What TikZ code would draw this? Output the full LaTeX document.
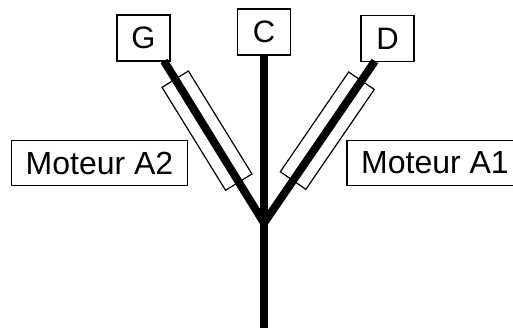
\documentclass[tikz,border=0pt]{standalone}
\usepackage{fontspec}
\setmainfont{Liberation Sans}
\usetikzlibrary{positioning}

\begin{document}
\begin{tikzpicture}[x=1pt, y=-1pt,
           lettre/.style={draw, line width=1.4pt, minimum width=53pt, minimum height=46pt, inner sep=0pt, font=\fontsize{31}{36}\selectfont},
           moteur/.style={draw, line width=1.2pt, minimum width=121pt, minimum height=31pt, inner sep=0pt},
           etiquette/.style={draw, line width=1.4pt, minimum width=176pt, minimum height=45pt, inner sep=0pt, font=\fontsize{32}{38}\selectfont},
           tige/.style={line width=8pt}]
           \useasboundingbox (0,0) rectangle (513,328);
           \node[lettre] (G) at (143.5,38) {G};
           \node[lettre] (C) at (264,32) {C};
           \node[lettre] (D) at (387.5,38.5) {D};
           \coordinate (gA) at (164,61);
           \coordinate (dA) at (375,61);
           \coordinate (J) at (264,223);
           \coordinate (bas) at (264,332);
           \path (gA) -- (J) node[moteur, sloped, pos=0.43] (mA2) {};
           \path (dA) -- (J) node[moteur, sloped, pos=0.43] (mA1) {};
           \draw[tige] (gA) -- (J) -- (dA);
           \draw[tige] (C.south) -- (bas);
           \node[etiquette] (lA2) at (99.5,163) {Moteur A2};
           \node[etiquette] (lA1) at (435,163) {Moteur A1};
        \end{tikzpicture}
\end{document}
